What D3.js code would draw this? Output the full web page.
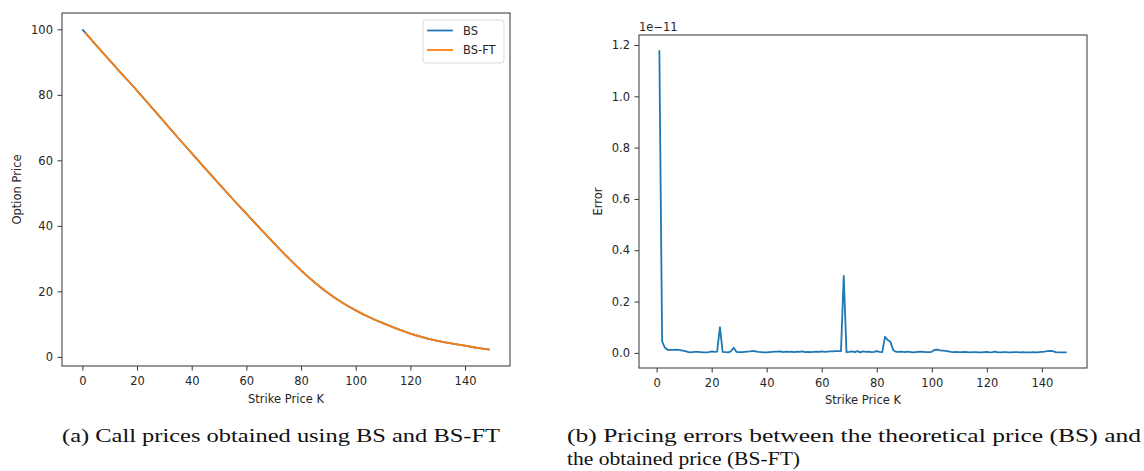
<!DOCTYPE html>
<html>
  <head>
    <meta charset="UTF-8" />
    <title>BS vs BS-FT</title>
    <style>
      body { margin: 0; background: #fff; }
      .tick text { font-family: "DejaVu Sans", sans-serif; font-size: 11.5px; fill: #262626; }
      .tick line { stroke: #333; }
      .lbl { font-family: "DejaVu Sans", sans-serif; font-size: 11.5px; fill: #262626; }
      .cap { font-family: "Liberation Serif", serif; font-size: 19px; fill: #111; }
    </style>
    <script src="https://d3js.org/d3.v7.min.js"></script>
  </head>
  <body>
    <svg id="fig" width="1144" height="471"></svg>
    <script>
      // call prices
      const strikeBS = [0, 5, 10, 15, 20, 25, 30, 35, 40, 45, 50, 55, 60, 65, 70, 75,
        80, 85, 90, 95, 100, 105, 110, 115, 120, 125, 130, 135, 140, 145, 149];
      const priceBS = [100, 95.2, 90.5, 85.9, 81.3, 76.5, 71.7, 66.9, 62.2, 57.5, 52.8,
        48.2, 43.7, 39.2, 34.8, 30.5, 26.4, 22.7, 19.4, 16.6, 14.2, 12.1, 10.3, 8.6,
        7.1, 5.9, 4.9, 4.1, 3.4, 2.7, 2.2];
      const strikeFT = [1, 5, 10, 15, 20, 25, 30, 35, 40, 45, 50, 55, 60, 65, 70, 75,
        80, 85, 90, 95, 100, 105, 110, 115, 120, 125, 130, 135, 140, 145, 149];
      const priceFT = [99.05, 95.2, 90.5, 85.9, 81.3, 76.5, 71.7, 66.9, 62.2, 57.5, 52.8,
        48.2, 43.7, 39.2, 34.8, 30.5, 26.4, 22.7, 19.4, 16.6, 14.2, 12.1, 10.3, 8.6,
        7.1, 5.9, 4.9, 4.1, 3.4, 2.7, 2.2];

      // pricing error (units of 1e-11) for K = 1..149, panel (b)
      const errStrikes = d3.range(1, 150);
      const errValues = [
        1.18, 0.045, 0.02, 0.012, 0.012, 0.012, 0.013, 0.012, 0.01, 0.008,
        0.005, 0.002, 0.003, 0.004, 0.004, 0.003, 0.002, 0.002, 0.003, 0.006,
        0.004, 0.005, 0.10, 0.004, 0.003, 0.002, 0.006, 0.02, 0.004, 0.003,
        0.003, 0.004, 0.005, 0.006, 0.008, 0.006, 0.004, 0.003, 0.002, 0.002,
        0.003, 0.004, 0.005, 0.005, 0.006, 0.003, 0.005, 0.004, 0.005, 0.003,
        0.005, 0.004, 0.006, 0.003, 0.004, 0.003, 0.004, 0.005, 0.004, 0.006,
        0.004, 0.005, 0.006, 0.006, 0.007, 0.007, 0.007, 0.30, 0.003, 0.004,
        0.006, 0.003, 0.007, 0.002, 0.006, 0.004, 0.005, 0.003, 0.004, 0.007,
        0.004, 0.003, 0.062, 0.05, 0.042, 0.01, 0.004, 0.004, 0.005, 0.003,
        0.005, 0.004, 0.002, 0.003, 0.004, 0.005, 0.004, 0.003, 0.003, 0.004,
        0.012, 0.013, 0.01, 0.009, 0.008, 0.006, 0.004, 0.003, 0.004, 0.003,
        0.003, 0.004, 0.003, 0.002, 0.003, 0.003, 0.002, 0.002, 0.003, 0.004,
        0.002, 0.003, 0.005, 0.002, 0.002, 0.003, 0.003, 0.002, 0.002, 0.003,
        0.003, 0.002, 0.003, 0.002, 0.002, 0.002, 0.003, 0.002, 0.003, 0.004,
        0.005, 0.007, 0.008, 0.007, 0.003, 0.002, 0.002, 0.002, 0.002
      ];

      const xTicks = [0, 20, 40, 60, 80, 100, 120, 140];
      const yTicksA = [0, 20, 40, 60, 80, 100];
      const yTicksB = [0, 0.2, 0.4, 0.6, 0.8, 1.0, 1.2];

      const blue = '#1f77b4';
      const orange = '#ff7f0e';

      const svg = d3.select('#fig');

      // shared panel builder
      function panel(box, xDom, yDom, yTicks, yFmt) {
        const g = svg.append('g');
        const x = d3.scaleLinear().domain(xDom).range([box.left, box.right]);
        const y = d3.scaleLinear().domain(yDom).range([box.bottom, box.top]);

        const ax = g.append('g')
          .attr('transform', `translate(0,${box.bottom})`)
          .call(d3.axisBottom(x).tickValues(xTicks).tickSize(4.5).tickPadding(6));
        ax.select('.domain').remove();

        const ay = g.append('g')
          .attr('transform', `translate(${box.left},0)`)
          .call(d3.axisLeft(y).tickValues(yTicks).tickFormat(yFmt).tickSize(4.5).tickPadding(4.5));
        ay.select('.domain').remove();

        const plot = g.append('g');
        g.append('rect')
          .attr('x', box.left).attr('y', box.top)
          .attr('width', box.right - box.left)
          .attr('height', box.bottom - box.top)
          .attr('fill', 'none')
          .attr('stroke', '#444')
          .attr('stroke-width', 1.1);
        return { g, x, y, plot };
      }

      // ---- panel (a)
      const boxA = { left: 62, right: 510, top: 13, bottom: 366 };
      const A = panel(boxA, [-7.45, 156.45], [-2.79, 104.99], yTicksA, d3.format('d'));

      const lineA = (xs) => d3.line()
        .x((d, i) => A.x(xs[i]))
        .y((d) => A.y(d))
        .curve(d3.curveMonotoneX);

      A.plot.append('path')
        .attr('d', lineA(strikeBS)(priceBS))
        .attr('fill', 'none').attr('stroke', blue).attr('stroke-width', 1.8);
      A.plot.append('path')
        .attr('d', lineA(strikeFT)(priceFT))
        .attr('fill', 'none').attr('stroke', orange).attr('stroke-width', 1.8);

      // legend
      const leg = A.g.append('g');
      leg.append('rect')
        .attr('x', 423).attr('y', 20).attr('width', 81).attr('height', 43)
        .attr('rx', 3).attr('fill', '#fff').attr('fill-opacity', 0.8)
        .attr('stroke', '#d9d9d9');
      [['BS', blue], ['BS-FT', orange]].forEach((d, i) => {
        const yy = 30.5 + i * 19.5;
        leg.append('line')
          .attr('x1', 427).attr('x2', 453).attr('y1', yy).attr('y2', yy)
          .attr('stroke', d[1]).attr('stroke-width', 1.8);
        leg.append('text').attr('class', 'lbl')
          .attr('x', 463).attr('y', yy + 4).text(d[0]);
      });

      A.g.append('text').attr('class', 'lbl')
        .attr('text-anchor', 'middle')
        .attr('x', (boxA.left + boxA.right) / 2).attr('y', 403)
        .text('Strike Price K');
      A.g.append('text').attr('class', 'lbl')
        .attr('text-anchor', 'middle')
        .attr('transform', `translate(21,${(boxA.top + boxA.bottom) / 2}) rotate(-90)`)
        .text('Option Price');

      // ---- panel (b)
      const boxB = { left: 639, right: 1087, top: 35, bottom: 368 };
      const B = panel(boxB, [-6.4, 156.4], [-0.059, 1.239], yTicksB, d3.format('.1f'));

      B.plot.append('path')
        .attr('d', d3.line()
          .x((d, i) => B.x(errStrikes[i]))
          .y((d) => B.y(d))(errValues))
        .attr('fill', 'none').attr('stroke', blue).attr('stroke-width', 1.8)
        .attr('stroke-linejoin', 'round');

      B.g.append('text').attr('class', 'lbl')
        .attr('x', boxB.left).attr('y', 31)
        .text('1e\u221211');
      B.g.append('text').attr('class', 'lbl')
        .attr('text-anchor', 'middle')
        .attr('x', (boxB.left + boxB.right) / 2).attr('y', 404)
        .text('Strike Price K');
      B.g.append('text').attr('class', 'lbl')
        .attr('text-anchor', 'middle')
        .attr('transform', `translate(602,${(boxB.top + boxB.bottom) / 2}) rotate(-90)`)
        .text('Error');

      // ---- captions
      svg.append('text').attr('class', 'cap')
        .attr('x', 62).attr('y', 442)
        .attr('textLength', 438).attr('lengthAdjust', 'spacingAndGlyphs')
        .text('(a) Call prices obtained using BS and BS-FT');
      svg.append('text').attr('class', 'cap')
        .attr('x', 567).attr('y', 442)
        .attr('textLength', 574).attr('lengthAdjust', 'spacingAndGlyphs')
        .text('(b) Pricing errors between the theoretical price (BS) and');
      svg.append('text').attr('class', 'cap')
        .attr('x', 567).attr('y', 465)
        .attr('textLength', 233).attr('lengthAdjust', 'spacingAndGlyphs')
        .text('the obtained price (BS-FT)');
    </script>
  </body>
</html>
